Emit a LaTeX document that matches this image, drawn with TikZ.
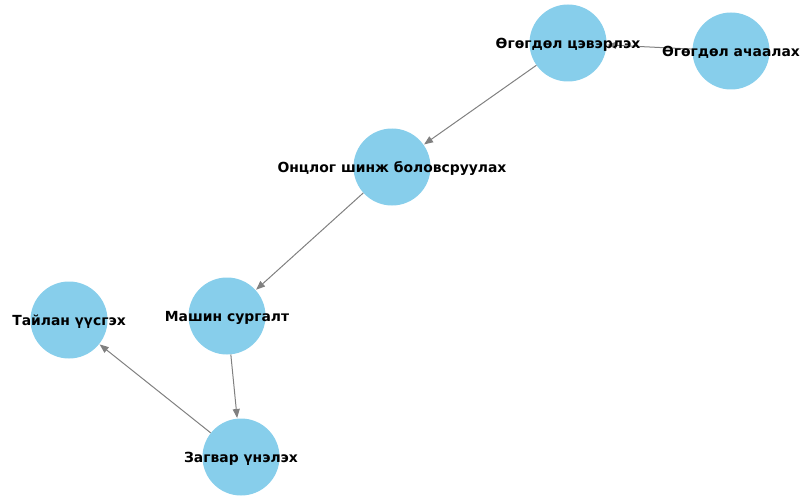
\documentclass[tikz,border=0pt]{standalone}
\usepackage{fontspec}
\setmainfont{DejaVu Sans}
\usetikzlibrary{arrows.meta}
\definecolor{skyblue}{HTML}{87CEEB}
\begin{document}
\begin{tikzpicture}[x=1pt,y=-1pt,
  vertex/.style={circle,fill=skyblue,minimum size=77pt,inner sep=0pt},
  lbl/.style={font=\fontsize{13.9}{16}\selectfont\bfseries,inner sep=0pt,yshift=-1.5pt},
  edge/.style={draw=gray,line width=1pt,-{Triangle[length=9pt,width=7pt]},shorten >=0.5pt}]
\useasboundingbox (0,0) rectangle (800,500);
\node[vertex] (load) at (731,51) {};
\node[vertex] (clean) at (568,43) {};
\node[vertex] (feat) at (392,167) {};
\node[vertex] (ml) at (227,316) {};
\node[vertex] (eval) at (241,457) {};
\node[vertex] (rep) at (69,320) {};
\draw[edge] (load) -- (clean);
\draw[edge] (clean) -- (feat);
\draw[edge] (feat) -- (ml);
\draw[edge] (ml) -- (eval);
\draw[edge] (eval) -- (rep);
\node[lbl] at (load) {Өгөгдөл ачаалах};
\node[lbl] at (clean) {Өгөгдөл цэвэрлэх};
\node[lbl] at (feat) {Онцлог шинж боловсруулах};
\node[lbl] at (ml) {Машин сургалт};
\node[lbl] at (eval) {Загвар үнэлэх};
\node[lbl] at (rep) {Тайлан үүсгэх};
\end{tikzpicture}
\end{document}
